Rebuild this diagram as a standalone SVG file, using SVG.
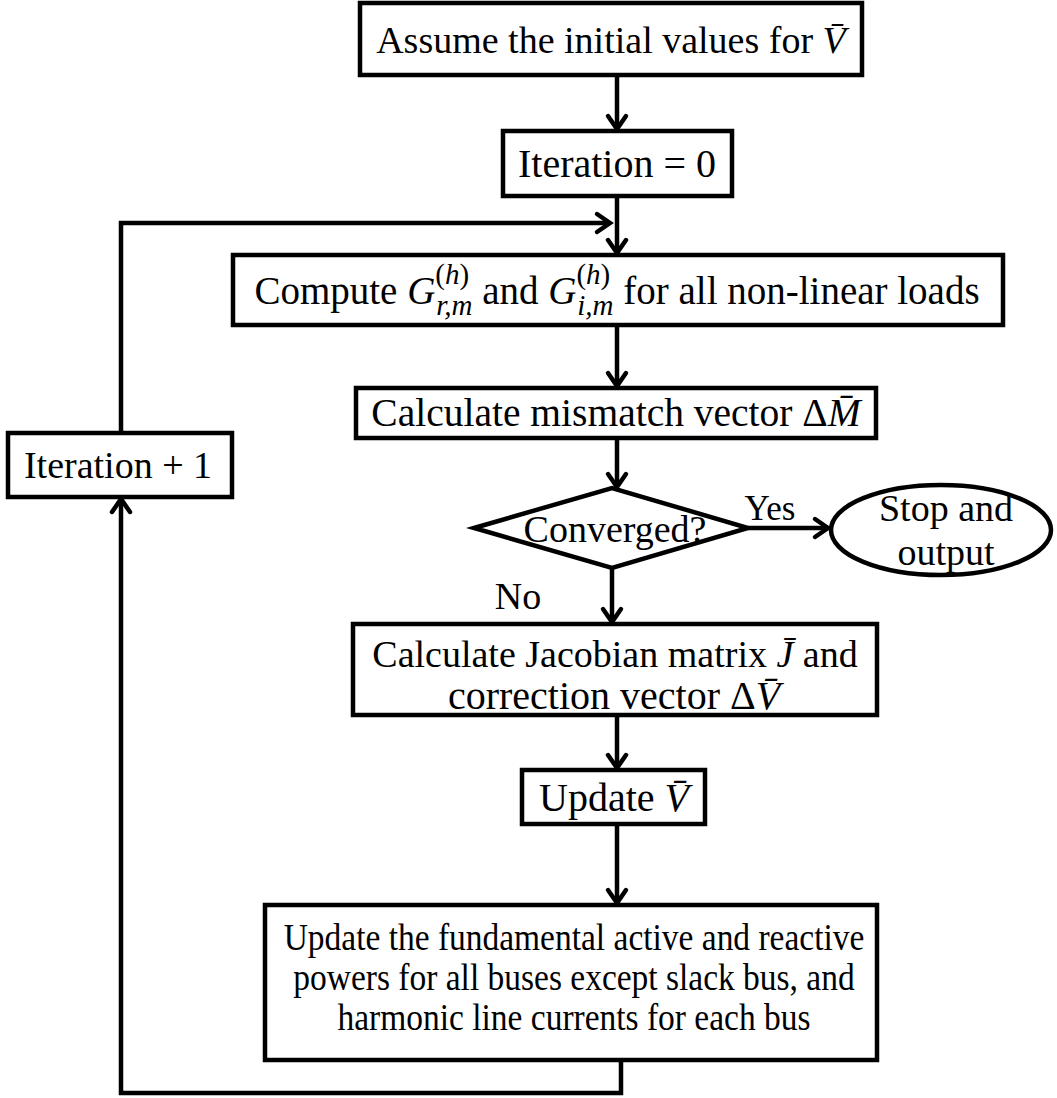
<svg xmlns="http://www.w3.org/2000/svg" width="1057" height="1098" viewBox="0 0 1057 1098">
  <style>
    .box { fill: #fff; stroke: #000; stroke-width: 4.5; }
    .wire { fill: none; stroke: #000; stroke-width: 4.5; }
    text { font-family: "Liberation Serif", "Times New Roman", serif; font-size: 38px; fill: #000; }
    .c { text-anchor: middle; }
    .i { font-style: italic; }
    .s { font-size: 29px; }
    .sm { font-size: 37px; }
    .lg { font-size: 40px; }
  </style>
  <defs>
    <marker id="arrow" markerUnits="userSpaceOnUse" markerWidth="30" markerHeight="30" viewBox="-20 -15 30 30" refX="0" refY="0" orient="auto" overflow="visible">
      <path d="M-13,-9 L0,0 L-13,9" fill="none" stroke="#000" stroke-width="4.5" stroke-linecap="round" stroke-linejoin="miter"/>
    </marker>
  </defs>

  <!-- connectors -->
  <g id="connectors">
    <line class="wire" x1="617" y1="75" x2="617" y2="129" marker-end="url(#arrow)"/>
    <line class="wire" x1="617" y1="196" x2="617" y2="253" marker-end="url(#arrow)"/>
    <polyline class="wire" points="121,433 121,223 610,223" marker-end="url(#arrow)"/>
    <line class="wire" x1="617" y1="325" x2="617" y2="386" marker-end="url(#arrow)"/>
    <line class="wire" x1="617" y1="438" x2="617" y2="487" marker-end="url(#arrow)"/>
    <line class="wire" x1="748" y1="528" x2="828" y2="528" marker-end="url(#arrow)"/>
    <line class="wire" x1="612" y1="568" x2="612" y2="622" marker-end="url(#arrow)"/>
    <line class="wire" x1="617" y1="715" x2="617" y2="768" marker-end="url(#arrow)"/>
    <line class="wire" x1="617" y1="824" x2="617" y2="903" marker-end="url(#arrow)"/>
    <polyline class="wire" points="621,1060 621,1093 121,1093 121,499" marker-end="url(#arrow)"/>
    <text x="770" y="520" class="c" style="font-size:35px">Yes</text>
    <text x="518" y="609" class="c">No</text>
  </g>

  <g id="init">
    <rect class="box" x="360" y="3" width="502" height="72"/>
    <text x="611" y="53" class="c">Assume the initial values for <tspan class="i">V̄</tspan></text>
  </g>

  <g id="iter0">
    <rect class="box" x="503" y="131" width="229" height="65"/>
    <text x="617" y="177" class="c lg">Iteration = 0</text>
  </g>

  <g id="compute">
    <rect class="box" x="233" y="255" width="770" height="70"/>
    <text x="617" y="304" class="c" style="font-size:39px">Compute <tspan class="i">G</tspan><tspan class="s" dy="-20">(<tspan class="i">h</tspan>)</tspan><tspan class="s i" dx="-33" dy="31">r,m</tspan><tspan dy="-11"> and </tspan><tspan class="i">G</tspan><tspan class="s" dy="-20">(<tspan class="i">h</tspan>)</tspan><tspan class="s i" dx="-33" dy="31">i,m</tspan><tspan dy="-11"> for all non-linear loads</tspan></text>
  </g>

  <g id="mismatch">
    <rect class="box" x="356" y="388" width="520" height="50"/>
    <text x="616" y="426" class="c" style="font-size:39.5px">Calculate mismatch vector Δ<tspan class="i">M̄</tspan></text>
  </g>

  <g id="iterplus">
    <rect class="box" x="8" y="433" width="224" height="64"/>
    <text x="118" y="478" class="c">Iteration + 1</text>
  </g>

  <g id="converged">
    <polygon class="box" points="474,528 612,488 748,528 612,568"/>
    <text x="615" y="542" class="c">Converged?</text>
  </g>

  <g id="stop">
    <ellipse class="box" cx="941" cy="530" rx="110" ry="45"/>
    <text x="946" y="521" class="c">Stop and</text>
    <text x="946" y="565" class="c">output</text>
  </g>

  <g id="jacobian">
    <rect class="box" x="353" y="624" width="524" height="91"/>
    <text x="615" y="667" class="c">Calculate Jacobian matrix <tspan class="i">J̄</tspan> and</text>
    <text x="614" y="709" class="c" style="font-size:40px">correction vector Δ<tspan class="i">V̄</tspan></text>
  </g>

  <g id="update">
    <rect class="box" x="522" y="770" width="183" height="54"/>
    <text x="614" y="811" class="c lg">Update <tspan class="i">V̄</tspan></text>
  </g>

  <g id="powers">
    <rect class="box" x="265" y="905" width="612" height="155"/>
    <!-- slightly condensed lines so the long text fits the box -->
    <g transform="translate(574,0) scale(0.905,1) translate(-574,0)">
      <text x="574" y="950" class="c sm">Update the fundamental active and reactive</text>
      <text x="574" y="990" class="c sm">powers for all buses except slack bus, and</text>
      <text x="574" y="1030" class="c sm">harmonic line currents for each bus</text>
    </g>
  </g>
</svg>
